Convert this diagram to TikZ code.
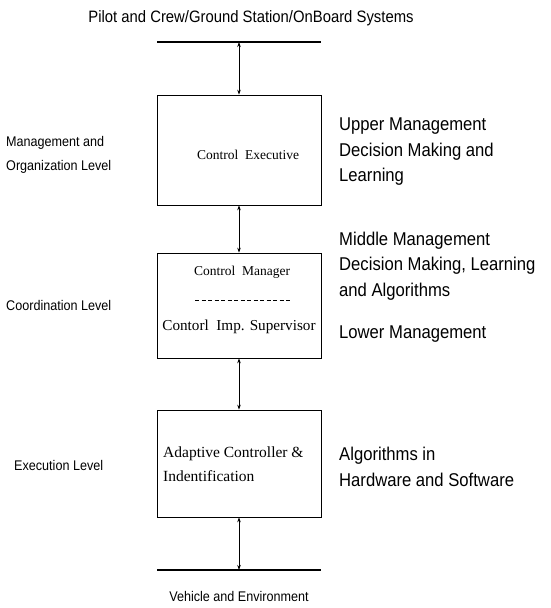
\documentclass[tikz,border=0pt]{standalone}
\usepackage{fontspec}
\setmainfont{Liberation Serif}
\newfontfamily\labfont[FakeStretch=0.9]{Liberation Sans}
\usetikzlibrary{arrows.meta}
\tikzset{
  blk/.style={draw, line width=0.7pt, minimum width=164pt, inner sep=0pt},
  boxtext/.style={font=\fontsize{13.5}{17}\selectfont, inner sep=0pt},
  lab/.style={font=\labfont\fontsize{14}{24}\selectfont, align=left, inner sep=0pt},
  rlab/.style={font=\labfont\fontsize{18.5}{25.5}\selectfont, align=left, inner sep=0pt, anchor=west},
  bar/.style={line width=1.3pt},
  link/.style={line width=0.6pt, {Stealth[length=5pt,width=3.5pt]}-{Stealth[length=5pt,width=3.5pt]}},
}
\begin{document}
\begin{tikzpicture}[x=1pt,y=-1pt]
\useasboundingbox (0,0) rectangle (551,608);
% top and bottom bars
\node[lab, font=\labfont\fontsize{16.5}{20}\selectfont] (top) at (251,18) {Pilot and Crew/Ground Station/OnBoard Systems};
\coordinate (tl) at (157,42);
\coordinate (tr) at (321,42);
\coordinate (tm) at (239,42);
\draw[bar] (tl) -- (tr);
\coordinate (bl) at (157,570);
\coordinate (br) at (321,570);
\coordinate (bm) at (239,570);
\draw[bar] (bl) -- (br);
\node[lab] (bot) at (239,596) {Vehicle and Environment};
% boxes
\node[blk, minimum height=110pt] (ce) at (239,150) {};
\node[boxtext] (cet) at (248,155) {Control\ \ Executive};
\node[blk, minimum height=105pt] (cm) at (239,305.5) {};
\node[boxtext] (cmt) at (242,272) {Control\ \ Manager};
\coordinate (dl) at (195,300);
\coordinate (dr) at (290,300);
\draw[dashed, line width=0.6pt, dash pattern=on 4pt off 2.5pt] (dl) -- (dr);
\node[boxtext, font=\fontsize{15.2}{17}\selectfont] (cst) at (239,327) {Contorl\ \ Imp. Supervisor};
\node[blk, minimum height=107pt] (ac) at (239,463.5) {};
\node[boxtext, align=left, anchor=west, font=\fontsize{15.5}{24}\selectfont] (act) at (163,464) {Adaptive Controller \&\\Indentification};
% connectors
\draw[link] (tm) -- (ce.north);
\draw[link] (ce.south) -- (cm.north);
\draw[link] (cm.south) -- (ac.north);
\draw[link] (ac.south) -- (bm);
% left labels
\node[lab, anchor=west] (l1) at (6,155) {Management and\\Organization Level};
\node[lab, anchor=west] (l2) at (6,305) {Coordination Level};
\node[lab, anchor=west] (l3) at (14,465) {Execution Level};
% right labels
\node[rlab] (r1) at (339,152) {Upper Management\\Decision Making and\\Learning};
\node[rlab] (r2) at (339,266) {Middle Management\\Decision Making, Learning\\and Algorithms};
\node[rlab] (r3) at (339,334) {Lower Management};
\node[rlab] (r4) at (339,467) {Algorithms in\\Hardware and Software};
\end{tikzpicture}
\end{document}
